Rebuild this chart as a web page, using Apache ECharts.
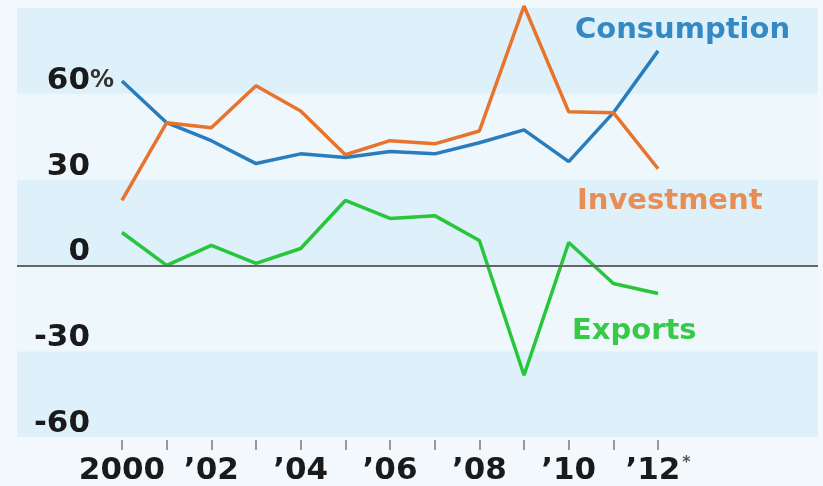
<!DOCTYPE html>
<html>
<head>
<meta charset="utf-8">
<script src="https://cdn.jsdelivr.net/npm/echarts@6/dist/echarts.min.js"></script>
<style>
html,body{margin:0;padding:0;background:#f2f8fc;}
#c{width:823px;height:486px;}
</style>
</head>
<body>
<div id="c"></div>
<script>
const years = [2000,2001,2002,2003,2004,2005,2006,2007,2008,2009,2010,2011,2012];
const labelYears = [2000,2002,2004,2006,2008,2010,2012];
const consumption = [64.5,49.9,43.6,35.6,39,37.7,39.8,39,42.9,47.4,36.3,53.4,75];
const investment = [22.7,49.9,48.1,62.8,54,38.7,43.6,42.5,47,90.7,53.7,53.4,33.8];
const exportsData = [11.5,0,7,0.7,5.9,22.7,16.4,17.4,8.7,-38.4,8,-6.3,-9.8];

const FONT = 'DejaVu Sans';
const chart = echarts.init(document.getElementById('c'));
const pair = a => years.map((y,i)=>[y,a[i]]);
const line = (name,data,color) => ({
  name, type:'line', data:pair(data), symbol:'none', clip:false,
  lineStyle:{color,width:3.5}, itemStyle:{color}
});
const green = line('Exports',exportsData,'#28c63a');
green.markLine = {silent:true,symbol:'none',label:{show:false},
  lineStyle:{color:'#666',width:2,type:'solid'},data:[{yAxis:0}]};
green.z = 3;

const txt = (s,left,top,color) => ({type:'text',left,top,z:10,
  style:{text:s,fill:color,fontSize:29,fontWeight:'bold',fontFamily:FONT}});

chart.setOption({
  backgroundColor:'#f2f8fc',
  animation:false,
  grid:{left:17,right:5,top:8,bottom:49},
  xAxis:{type:'value',min:1997.65,max:2015.58,offset:3,
    splitLine:{show:false},axisLine:{show:false,onZero:false},
    axisTick:{show:true,length:10,customValues:years,lineStyle:{color:'#999',width:2}},
    axisLabel:{customValues:labelYears,margin:15,fontFamily:FONT,fontWeight:'bold',fontSize:31,color:'#1a1a1a',
      formatter:v=>v===2000?'2000':(v===2012?'’12{s|*}':'’'+String(v).slice(2)),
      rich:{s:{fontSize:16,fontFamily:FONT,color:'#555',verticalAlign:'top',padding:[0,0,14,2]}}}
  },
  yAxis:{type:'value',min:-60,max:90,interval:30,
    axisLine:{show:false},axisTick:{show:false},splitLine:{show:false},
    splitArea:{show:true,areaStyle:{color:['#def0fa','#eef7fc']}},
    axisLabel:{inside:true,align:'right',verticalAlign:'bottom',margin:97,
      formatter:v=>v===90?'':'{n|'+v+'}{'+(v===60?'p':'h')+'|%}',
      rich:{
        n:{fontFamily:FONT,fontWeight:'bold',fontSize:31,color:'#1a1a1a',lineHeight:26},
        p:{fontFamily:FONT,fontWeight:'bold',fontSize:24,color:'#333',lineHeight:26},
        h:{fontFamily:FONT,fontWeight:'bold',fontSize:24,color:'transparent',lineHeight:26}
      }}
  },
  series:[
    line('Consumption',consumption,'#2a7dbd'),
    line('Investment',investment,'#e8732c'),
    green
  ],
  graphic:{elements:[
    txt('Consumption',575,16,'#3489c5'),
    txt('Investment',577,187,'#e68e55'),
    txt('Exports',572,317,'#38c948')
  ]}
});
</script>
</body>
</html>
